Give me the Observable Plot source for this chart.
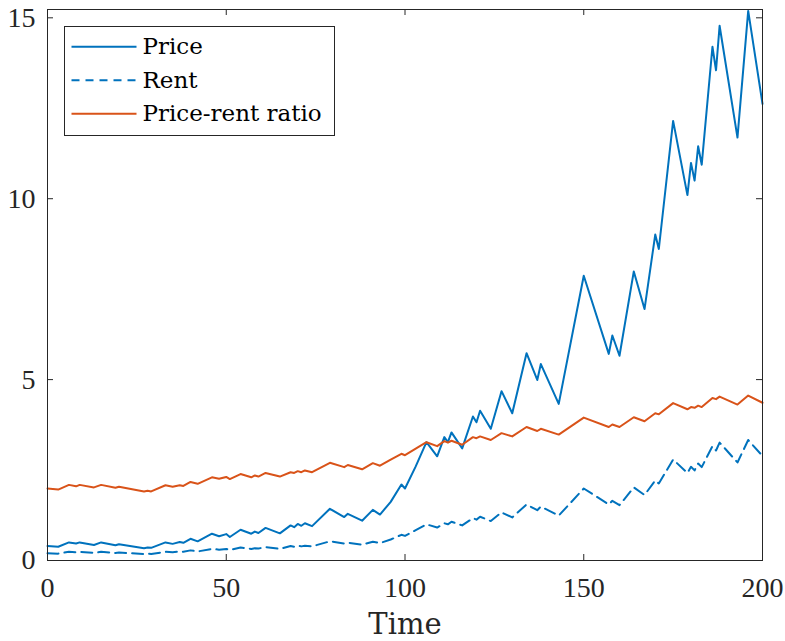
<!DOCTYPE html>
<html><head><meta charset="utf-8">
<script src="https://cdn.jsdelivr.net/npm/d3@7"></script>
<script src="https://cdn.jsdelivr.net/npm/@observablehq/plot@0.6"></script>
<style>
body{margin:0;background:#fff}
#wrap{position:relative;width:785px;height:641px;background:#fff}
#legend{position:absolute;left:0;top:0;pointer-events:none}
</style>
</head><body>
<div id="wrap"></div>
<script>
const time  = [0,3,6,8,9,13,15,19,20,27,28,29,33,35,37,38,40,42,46,48,50,51,54,57,58,59,61,65,68,69,70,71,72,74,79,83,84,88,91,93,96,99,100,103,106,109,111,112,113,116,119,120,121,124,127,130,134,137,138,143,150,157,158,160,164,167,170,171,175,179,180,181,182,183,186,187,188,193,196,200];
const price = [0.40,0.38,0.50,0.47,0.50,0.43,0.50,0.42,0.45,0.34,0.36,0.35,0.50,0.46,0.51,0.49,0.60,0.53,0.74,0.67,0.73,0.65,0.85,0.74,0.80,0.76,0.90,0.75,0.97,0.92,1.01,0.96,1.03,0.95,1.43,1.20,1.29,1.10,1.40,1.27,1.62,2.10,1.99,2.60,3.27,2.88,3.41,3.27,3.54,3.10,3.98,3.82,4.14,3.64,4.68,4.07,5.73,4.99,5.43,4.33,7.87,5.71,6.22,5.66,7.99,6.95,9.01,8.61,12.15,10.10,10.99,10.50,11.45,10.94,14.20,13.55,14.78,11.69,15.19,12.62];
const rent  = [0.20,0.19,0.24,0.23,0.24,0.21,0.24,0.21,0.22,0.18,0.19,0.18,0.24,0.23,0.25,0.24,0.28,0.25,0.32,0.30,0.32,0.29,0.36,0.32,0.34,0.33,0.37,0.32,0.40,0.38,0.41,0.39,0.41,0.39,0.53,0.47,0.49,0.44,0.52,0.48,0.58,0.71,0.68,0.84,1.00,0.91,1.03,1.00,1.07,0.97,1.17,1.13,1.21,1.09,1.33,1.19,1.55,1.39,1.49,1.24,1.99,1.55,1.65,1.53,2.02,1.81,2.21,2.13,2.79,2.42,2.59,2.49,2.68,2.58,3.16,3.04,3.26,2.71,3.33,2.89];
const ratio = [1.99,1.96,2.09,2.05,2.09,2.02,2.09,2.01,2.04,1.91,1.93,1.91,2.08,2.04,2.08,2.06,2.17,2.12,2.30,2.26,2.31,2.25,2.39,2.30,2.35,2.32,2.42,2.32,2.44,2.42,2.47,2.44,2.49,2.44,2.70,2.58,2.64,2.52,2.69,2.62,2.79,2.95,2.91,3.09,3.27,3.16,3.30,3.26,3.31,3.20,3.41,3.38,3.43,3.33,3.52,3.43,3.69,3.58,3.64,3.48,3.95,3.69,3.76,3.69,3.96,3.85,4.07,4.04,4.35,4.18,4.24,4.22,4.28,4.24,4.49,4.46,4.53,4.31,4.56,4.36];
const xTicks = [0,50,100,150,200];
const yTicks = [0,5,10,15];
const seriesNames = ["Price","Rent","Price-rent ratio"];
const xLabel = "Time";

const rows = time.map((t,i)=>({t, price:price[i], rent:rent[i], ratio:ratio[i]}));
const W=785,H=641,mL=47,mR=23,mT=9,mB=81;
const fw=W-mL-mR, fh=H-mT-mB;
const blue="#0072BD", orange="#D95319", ink="#262626";

const chart = Plot.plot({
  width:W, height:H, marginLeft:mL, marginRight:mR, marginTop:mT, marginBottom:mB,
  x:{domain:[0,200]},
  y:{domain:[0,15.23]},
  style:{fontFamily:"Liberation Serif", fontSize:"28px", color:ink, background:"white"},
  marks:[
    Plot.lineY(rows,{x:"t",y:"price",stroke:blue,strokeWidth:2}),
    Plot.lineY(rows,{x:"t",y:"rent",stroke:blue,strokeWidth:2,strokeDasharray:"11,6"}),
    Plot.lineY(rows,{x:"t",y:"ratio",stroke:orange,strokeWidth:2}),
    Plot.frame({stroke:ink}),
    Plot.tickX(xTicks,{x:d=>d,insetTop:fh-6,stroke:ink}),
    Plot.tickX(xTicks,{x:d=>d,insetBottom:fh-6,stroke:ink}),
    Plot.tickY(yTicks,{y:d=>d,insetRight:fw-6,stroke:ink}),
    Plot.tickY(yTicks,{y:d=>d,insetLeft:fw-6,stroke:ink}),
    Plot.axisX({ticks:xTicks,tickSize:0,tickPadding:17,label:null,tickFormat:d=>String(d)}),
    Plot.axisY({ticks:yTicks,tickSize:0,tickPadding:12,label:null,tickFormat:d=>String(d)}),
    Plot.text([xLabel],{frameAnchor:"bottom",dy:73,lineAnchor:"bottom",text:d=>d,fontFamily:"DejaVu Serif",fontSize:29,fill:ink})
  ]
});
const wrap=document.getElementById("wrap");
wrap.appendChild(chart);

// legend overlay
const ns="http://www.w3.org/2000/svg";
const lg=document.createElementNS(ns,"svg");
lg.setAttribute("id","legend");lg.setAttribute("width",W);lg.setAttribute("height",H);
const styles=[{stroke:blue,dash:null},{stroke:blue,dash:"8,6"},{stroke:orange,dash:null}];
const rowY=[46.7,80.2,113.7];
let html=`<rect x="64.5" y="26.5" width="270" height="109" fill="white" stroke="${ink}" stroke-width="1"/>`;
seriesNames.forEach((n,i)=>{
  const s=styles[i];
  html+=`<line x1="71.5" x2="136.5" y1="${rowY[i]}" y2="${rowY[i]}" stroke="${s.stroke}" stroke-width="2" ${s.dash?`stroke-dasharray="${s.dash}"`:""}/>`;
  html+=`<text x="142.5" y="${rowY[i]+7.5}" font-family="DejaVu Serif" font-size="23" fill="#000">${n}</text>`;
});
lg.innerHTML=html;
wrap.appendChild(lg);
</script>
</body></html>
